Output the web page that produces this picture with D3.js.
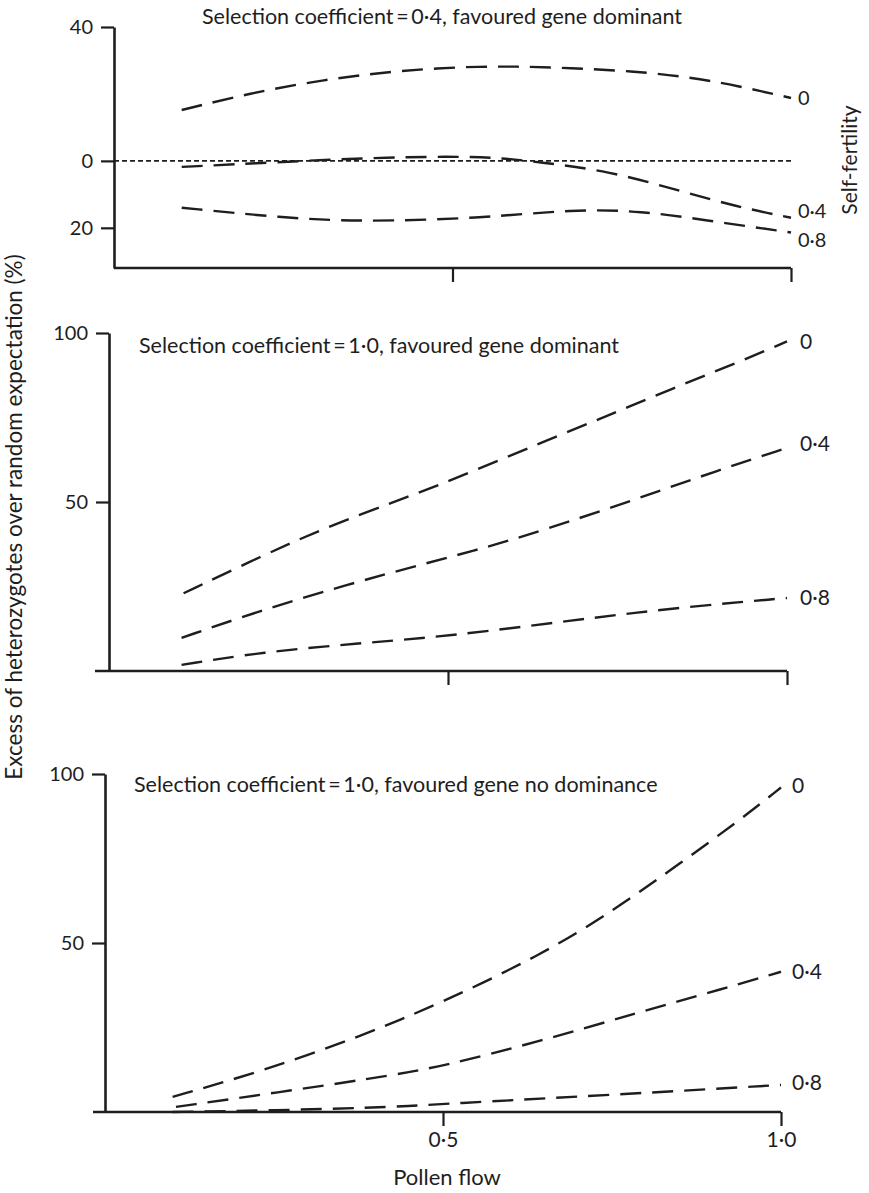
<!DOCTYPE html>
<html>
<head>
<meta charset="utf-8">
<script src="https://cdn.jsdelivr.net/npm/d3@7"></script>
<style>
    body { margin: 0; background: #fff; }
    svg text { font-family: Lato, "Open Sans", sans-serif; fill: #1e1e1e; }
</style>
</head>
<body>
<div id="chart"></div>
<script>
// ---- data ----
const panelTitles = [
    "Selection coefficient\u2009=\u20090·4, favoured gene dominant",
    "Selection coefficient\u2009=\u20091·0, favoured gene dominant",
    "Selection coefficient\u2009=\u20091·0, favoured gene no dominance"
];
const selfFertility = ["0", "0·4", "0·8"];
const xTicks = [0.5, 1.0];
const xTickLabels = ["0·5", "1·0"];

// panel 1: s = 0.4, dominant  (negative values are shown as a deficit)
const topS0  = [[0.1, 15.2], [0.2, 20.2], [0.31, 24.3], [0.42, 27], [0.54, 28.4], [0.65, 28], [0.77, 26.8], [0.85, 25], [0.92, 22.5], [1.0, 18.8]];
const topS04 = [[0.1, -1.8], [0.2, -0.8], [0.36, 0.8], [0.5, 1.4], [0.57, 0.9], [0.63, -0.4], [0.73, -3], [0.83, -8.6], [0.92, -13.7], [1.0, -17]];
const topS08 = [[0.1, -14], [0.25, -17], [0.36, -18.2], [0.54, -17.2], [0.68, -14.4], [0.78, -15], [0.87, -17.6], [1.0, -21.4]];
const topTicks = [40, 0, -20];

// panel 2: s = 1.0, dominant
const midS0  = [[0.11, 23], [0.225, 34], [0.32, 42.5], [0.42, 50], [0.5, 56], [0.637, 67.5], [0.735, 75.5], [0.83, 83.5], [0.93, 91.5], [1.0, 97.5]];
const midS04 = [[0.107, 9.8], [0.225, 18], [0.35, 25.5], [0.47, 32], [0.55, 36.2], [0.637, 41.4], [0.78, 51], [0.9, 59.5], [1.0, 66]];
const midS08 = [[0.107, 1.8], [0.225, 5.6], [0.37, 8.2], [0.5, 10.3], [0.685, 15], [0.83, 18.6], [1.0, 21.6]];

// panel 3: s = 1.0, no dominance
const botS0  = [[0.1, 4.5], [0.23, 11.9], [0.38, 22.5], [0.5, 32.5], [0.645, 46.5], [0.744, 58.5], [0.84, 72], [0.94, 86.5], [1.0, 96]];
const botS04 = [[0.105, 1.5], [0.28, 6.5], [0.43, 11], [0.5, 13.6], [0.645, 21], [0.79, 29.5], [0.915, 36.5], [1.0, 41.5]];
const botS08 = [[0.1, 0], [0.28, 0.6], [0.43, 1.5], [0.5, 2.4], [0.744, 5.0], [1.0, 8]];
const pctTicks = [100, 50];

// ---- layout ----
const WIDTH = 869, HEIGHT = 1193;
const INK = "#1e1e1e";

const svg = d3.select("#chart").append("svg")
    .attr("width", WIDTH)
    .attr("height", HEIGHT);

const panels = [
    { curves: [topS0, topS04, topS08], ticks: topTicks, yDomain: [-32, 40], yRange: [268, 27],
      xRange: [114, 791], title: panelTitles[0], titleX: 202, titleY: 24, zeroLine: true, axisExtend: 0,
      tickLabels: false, labelDx: 7, labelDy: [0, -7, 7], labelSize: 20 },
    { curves: [midS0, midS04, midS08], ticks: pctTicks, yDomain: [0, 100], yRange: [671, 333],
      xRange: [109, 787], title: panelTitles[1], titleX: 139, titleY: 353, zeroLine: false, axisExtend: 14,
      tickLabels: false, labelDx: 13, labelDy: [0, -4, 0], labelSize: 21 },
    { curves: [botS0, botS04, botS08], ticks: pctTicks, yDomain: [0, 100], yRange: [1112, 774],
      xRange: [105, 781], title: panelTitles[2], titleX: 134, titleY: 792, zeroLine: false, axisExtend: 12,
      tickLabels: true, labelDx: 11, labelDy: [-2, 0, -2], labelSize: 21 }
];

panels.forEach(p => drawPanel(p));

function drawPanel(p) {
    const x = d3.scaleLinear().domain([0, 1]).range(p.xRange);
    const y = d3.scaleLinear().domain(p.yDomain).range(p.yRange);
    const g = svg.append("g");

    // Y axis
    const yAxis = g.append("g")
        .attr("transform", `translate(${x(0)}, 0)`)
        .call(d3.axisLeft(y).tickValues(p.ticks).tickSize(13).tickSizeOuter(0).tickPadding(8)
            .tickFormat(d => Math.abs(d)));
    yAxis.select(".domain").attr("stroke", INK).attr("stroke-width", 2.6);
    yAxis.selectAll(".tick line").attr("stroke", INK).attr("stroke-width", 2.2);
    yAxis.selectAll(".tick text").style("font-size", "20px").attr("fill", INK);

    // X axis
    const xAxis = g.append("g")
        .attr("transform", `translate(0, ${y(p.yDomain[0])})`)
        .call(d3.axisBottom(x).tickValues(xTicks).tickSize(14).tickSizeOuter(0).tickPadding(6)
            .tickFormat((d, i) => p.tickLabels ? xTickLabels[i] : ""));
    xAxis.select(".domain").remove();
    xAxis.append("line")
        .attr("x1", x(0) - p.axisExtend)
        .attr("x2", x(1))
        .attr("stroke", INK)
        .attr("stroke-width", 2.6);
    xAxis.selectAll(".tick line").attr("stroke", INK).attr("stroke-width", 2.2);
    xAxis.selectAll(".tick text").style("font-size", "21px").attr("fill", INK);

    // Title
    g.append("text")
        .attr("x", p.titleX)
        .attr("y", p.titleY)
        .style("font-size", "21.5px")
        .text(p.title);

    // Zero reference (dotted)
    if (p.zeroLine) {
        g.append("line")
            .attr("x1", x(0))
            .attr("x2", x(1))
            .attr("y1", y(0))
            .attr("y2", y(0))
            .attr("stroke", INK)
            .attr("stroke-width", 1.6)
            .attr("stroke-dasharray", "5,3");
    }

    const line = d3.line()
        .x(d => x(d[0]))
        .y(d => y(d[1]))
        .curve(d3.curveBasis);

    p.curves.forEach((c, i) => {
        g.append("path")
            .datum(c)
            .attr("fill", "none")
            .attr("stroke", INK)
            .attr("stroke-width", 2.4)
            .attr("stroke-dasharray", "21,11")
            .attr("d", line);

        const last = c[c.length - 1];
        g.append("text")
            .attr("x", x(last[0]) + p.labelDx)
            .attr("y", y(last[1]) + p.labelDy[i])
            .attr("dy", "0.35em")
            .style("font-size", p.labelSize + "px")
            .text(selfFertility[i]);
    });
}

// Shared axis titles
svg.append("text")
    .attr("transform", "translate(22, 517) rotate(-90)")
    .attr("text-anchor", "middle")
    .style("font-size", "22.5px")
    .text("Excess of heterozygotes over random expectation (%)");

svg.append("text")
    .attr("transform", "translate(857, 160) rotate(-90)")
    .attr("text-anchor", "middle")
    .style("font-size", "21px")
    .text("Self-fertility");

svg.append("text")
    .attr("x", 447)
    .attr("y", 1185)
    .attr("text-anchor", "middle")
    .style("font-size", "22px")
    .text("Pollen flow");
</script>
</body>
</html>
